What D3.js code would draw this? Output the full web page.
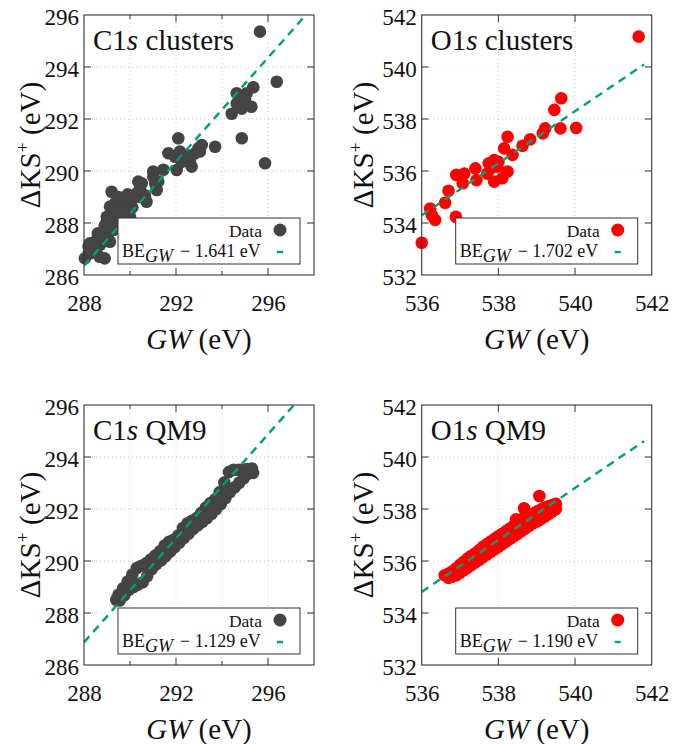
<!DOCTYPE html>
<html><head><meta charset="utf-8">
<script src="https://cdn.jsdelivr.net/npm/d3@7"></script>
<style>body{margin:0;background:#fff}svg{display:block}</style>
</head><body><svg id="c" width="681" height="744" font-family="'Liberation Serif', serif"></svg>
<script>
// ---- data ----
const c1sClustersGW = [288.04,288.26,288.20,288.90,288.68,288.48,288.70,288.91,289.06,288.77,289.13,288.99,289.28,289.13,289.35,289.49,289.64,289.78,290.00,290.14,290.29,290.43,290.36,290.51,290.72,290.29,289.20,289.42,289.57,289.86,290.00,289.71,289.86,289.49,289.28,288.99,288.84,288.55,288.41,288.26,289.13,290.65,291.01,291.01,291.16,291.23,291.45,291.67,291.96,292.17,292.03,292.39,292.68,292.61,292.83,292.97,293.12,293.04,293.70,292.10,294.86,294.42,294.64,294.64,294.86,295.00,295.07,295.28,295.36,295.65,296.38,295.87,289.00,289.30,289.60,288.60,288.90,289.70,290.10,289.90,290.40,291.10,292.50,292.25,288.50,288.20,289.50];
const c1sClustersKS = [286.64,286.83,286.83,286.64,286.70,287.03,287.16,287.35,287.60,287.47,287.86,288.24,288.37,288.63,288.76,288.88,288.69,288.82,288.88,289.01,289.14,289.33,289.59,289.53,288.82,287.73,289.20,288.56,288.18,288.37,288.24,288.50,288.63,287.99,287.73,287.73,287.60,287.35,287.09,287.22,287.28,289.07,289.78,289.98,289.27,289.59,290.05,290.68,290.55,290.75,290.04,290.55,290.17,290.42,290.68,290.87,291.00,290.75,290.93,291.26,291.26,292.20,292.60,292.99,292.40,292.73,292.99,292.47,293.22,295.36,293.43,290.30,288.10,288.00,288.40,287.60,287.90,288.90,288.60,289.10,289.00,289.50,290.60,290.35,286.90,287.10,289.00];

const o1sClustersGW = [541.66,536.00,536.22,536.26,536.35,536.61,536.70,536.89,536.90,537.11,537.07,537.40,537.43,537.71,537.75,537.89,537.97,537.89,538.10,538.24,538.15,538.24,538.37,538.63,538.83,539.16,539.22,539.46,539.64,539.62,540.03,537.80,538.00];
const o1sClustersKS = [541.17,533.24,534.56,534.31,534.12,534.78,535.24,534.24,535.85,535.90,535.53,536.10,535.65,535.90,536.30,536.42,536.17,535.59,535.72,535.98,536.87,537.32,536.62,536.97,537.22,537.45,537.64,538.35,538.80,537.64,537.66,536.10,536.35];

const c1sQM9GW = [289.40,289.50,289.70,289.90,290.10,290.30,290.50,290.70,290.90,291.10,291.30,291.50,291.70,291.90,292.10,292.30,292.50,292.70,292.90,293.10,293.30,293.50,293.70,293.90,294.10,294.30,294.50,294.70,294.90,295.10,295.30,
                  289.55,289.75,289.95,290.15,290.35,290.55,290.75,290.95,291.15,291.35,291.55,291.75,291.95,292.15,292.35,292.55,292.75,292.95,293.15,293.35,293.55,293.75,293.95,294.15,294.35,294.55,294.75,294.95,295.15,295.35];
const c1sQM9KS = [288.51,288.70,288.95,289.21,289.48,289.73,289.82,289.91,290.06,290.21,290.37,290.59,290.74,290.82,290.98,291.27,291.45,291.55,291.65,291.85,292.06,292.23,292.37,292.65,293.02,293.42,293.51,293.51,293.52,293.54,293.56,
                  288.48,288.68,288.89,289.00,289.09,289.18,289.42,289.69,289.88,290.03,290.19,290.36,290.54,290.71,290.89,291.06,291.24,291.37,291.51,291.65,291.82,292.00,292.19,292.42,292.65,292.83,293.01,293.19,293.36,293.39];

const o1sQM9GW = [536.60,536.70,536.80,536.90,537.00,537.10,537.20,537.30,537.40,537.50,537.60,537.70,537.80,537.90,538.00,538.10,538.20,538.30,538.40,538.50,538.60,538.70,538.80,538.90,539.00,539.10,539.20,539.30,539.40,539.50,
                  536.70,536.80,536.90,537.00,537.10,537.20,537.30,537.40,537.50,537.60,537.70,537.80,537.90,538.00,538.10,538.20,538.30,538.40,538.50,538.60,538.70,538.80,538.90,539.00,539.10,539.20,539.30,539.40,539.50,
                  538.67,539.07,538.46];
const o1sQM9KS = [535.45,535.52,535.60,535.72,535.85,535.97,536.10,536.20,536.30,536.42,536.55,536.65,536.75,536.85,536.95,537.05,537.15,537.25,537.35,537.50,537.60,537.68,537.75,537.82,537.90,537.97,538.05,538.10,538.15,538.20,
                  535.35,535.40,535.45,535.55,535.65,535.75,535.85,535.95,536.05,536.15,536.25,536.35,536.45,536.55,536.65,536.75,536.85,536.95,537.05,537.15,537.25,537.35,537.45,537.52,537.60,537.70,537.80,537.90,538.00,
                  538.03,538.50,537.60];

const titleHeads = ["C1", "O1", "C1", "O1"];
const titleTails = [" clusters", " clusters", " QM9", " QM9"];
const fitShifts = [1.641, 1.702, 1.129, 1.190];
const fitLabels = ["1.641", "1.702", "1.129", "1.190"];
const cTickX = [288, 292, 296], cMinorX = [290, 294], cTickY = [286, 288, 290, 292, 294, 296];
const oTickX = [536, 538, 540, 542], oMinorX = [], oTickY = [532, 534, 536, 538, 540, 542];
const cDomX = [288, 298], cDomY = [286, 296], oDomX = [536, 542], oDomY = [532, 542];
const cFitX = [288, 298], oFitX = [536, 541.8];

// ---- layout ----
const FONT = "'Liberation Serif', 'DejaVu Serif', serif";
const svg = d3.select("#c");
const W = 230, H = 260;
const panels = [
  {ox:84, oy:15, gx:cDomX, gy:cDomY, tx:cTickX, mx:cMinorX, ty:cTickY, fx:cFitX, x:c1sClustersGW, y:c1sClustersKS, col:"#444444"},
  {ox:421.7, oy:15, gx:oDomX, gy:oDomY, tx:oTickX, mx:oMinorX, ty:oTickY, fx:oFitX, x:o1sClustersGW, y:o1sClustersKS, col:"#ff0000"},
  {ox:84, oy:405, gx:cDomX, gy:cDomY, tx:cTickX, mx:cMinorX, ty:cTickY, fx:cFitX, x:c1sQM9GW, y:c1sQM9KS, col:"#444444"},
  {ox:421.7, oy:405, gx:oDomX, gy:oDomY, tx:oTickX, mx:oMinorX, ty:oTickY, fx:oFitX, x:o1sQM9GW, y:o1sQM9KS, col:"#ff0000"}
];
const green = "#00a07a";

panels.forEach((p, i) => {
  const g = svg.append("g").attr("transform", `translate(${p.ox},${p.oy})`);
  const xs = d3.scaleLinear().domain(p.gx).range([0, W]);
  const ys = d3.scaleLinear().domain(p.gy).range([H, 0]);
  const allX = p.tx.concat(p.mx).filter(v => v > p.gx[0] && v < p.gx[1]);
  const allY = p.ty.filter(v => v > p.gy[0] && v < p.gy[1]);
  // grid
  g.append("g").selectAll("line").data(allX).join("line")
    .attr("x1", d => xs(d)).attr("x2", d => xs(d)).attr("y1", 0).attr("y2", H)
    .attr("stroke", "#bdbdbd").attr("stroke-width", 0.8).attr("stroke-dasharray", "1,3");
  g.append("g").selectAll("line").data(allY).join("line")
    .attr("y1", d => ys(d)).attr("y2", d => ys(d)).attr("x1", 0).attr("x2", W)
    .attr("stroke", "#bdbdbd").attr("stroke-width", 0.8).attr("stroke-dasharray", "1,3");
  // points
  const pts = p.x.map((v, k) => [v, p.y[k]]);
  g.append("g").selectAll("circle").data(pts).join("circle")
    .attr("cx", d => xs(d[0])).attr("cy", d => ys(d[1])).attr("r", 6.3).attr("fill", p.col);
  // fit line (clipped)
  const cid = "clip" + i;
  g.append("clipPath").attr("id", cid).append("rect").attr("width", W).attr("height", H);
  const line = d3.line().x(d => xs(d)).y(d => ys(d - fitShifts[i]));
  g.append("path").datum(p.fx)
    .attr("d", line).attr("clip-path", `url(#${cid})`)
    .attr("fill", "none").attr("stroke", green).attr("stroke-width", 2.4).attr("stroke-dasharray", "8,6");
  // axes
  const bottom = d3.axisBottom(xs).tickValues(p.tx).tickSize(0).tickPadding(0).tickFormat(d3.format("d"));
  const gb = g.append("g").attr("transform", `translate(0,${H})`).call(bottom).attr("font-family", FONT);
  gb.select(".domain").remove();
  gb.selectAll("text").attr("font-size", 23).attr("y", 36).attr("dy", 0).attr("fill", "#111")
    .attr("font-family", FONT).style("font-family", FONT);
  const left = d3.axisLeft(ys).tickValues(p.ty).tickSize(0).tickPadding(0).tickFormat(d3.format("d"));
  const gl = g.append("g").call(left).attr("font-family", FONT);
  gl.select(".domain").remove();
  gl.selectAll("text").attr("font-size", 23).attr("x", -5).attr("dy", "0.4em").attr("fill", "#111")
    .attr("font-family", FONT).style("font-family", FONT);
  // tick marks (inward, all sides)
  const tm = g.append("g").attr("stroke", "#333").attr("stroke-width", 1);
  p.tx.concat(p.mx).forEach(v => {
    if (v <= p.gx[0] || v >= p.gx[1]) return;
    const L = p.mx.includes(v) ? 4 : 7;
    tm.append("line").attr("x1", xs(v)).attr("x2", xs(v)).attr("y1", H).attr("y2", H - L);
    tm.append("line").attr("x1", xs(v)).attr("x2", xs(v)).attr("y1", 0).attr("y2", L);
  });
  p.ty.forEach(v => {
    if (v <= p.gy[0] || v >= p.gy[1]) return;
    tm.append("line").attr("x1", 0).attr("x2", 7).attr("y1", ys(v)).attr("y2", ys(v));
    tm.append("line").attr("x1", W).attr("x2", W - 7).attr("y1", ys(v)).attr("y2", ys(v));
  });
  // frame
  g.append("rect").attr("width", W).attr("height", H).attr("fill", "none").attr("stroke", "#333").attr("stroke-width", 1.1);
  // title
  const t = g.append("text").attr("x", 9).attr("y", 35).attr("font-size", 29).attr("fill", "#111").style("font-family", FONT);
  t.append("tspan").text(titleHeads[i]);
  t.append("tspan").attr("font-style", "italic").text("s");
  t.append("tspan").text(titleTails[i]);
  // legend
  const lx = 34, ly = 203, lw = W - 48, lh = 46;
  const lg = g.append("g");
  lg.append("rect").attr("x", lx).attr("y", ly).attr("width", lw).attr("height", lh)
    .attr("fill", "#fff").attr("stroke", "#333").attr("stroke-width", 1);
  lg.append("text").attr("x", lx + lw - 38).attr("y", ly + 19).attr("text-anchor", "end").attr("font-size", 17.5)
    .attr("fill", "#111").style("font-family", FONT).text("Data");
  lg.append("circle").attr("cx", lx + lw - 20).attr("cy", ly + 12).attr("r", 6.5).attr("fill", p.col);
  const lt = lg.append("text").attr("x", lx + 4).attr("y", ly + 39).attr("font-size", 18).attr("fill", "#111").style("font-family", FONT);
  lt.append("tspan").text("BE");
  lt.append("tspan").attr("font-style", "italic").attr("dy", 5).text("GW");
  lt.append("tspan").attr("dy", -5).attr("dx", 7).text("\u2212 " + fitLabels[i] + " eV");
  lg.append("line").attr("x1", lx + lw - 23).attr("x2", lx + lw - 17).attr("y1", ly + 34).attr("y2", ly + 34)
    .attr("stroke", green).attr("stroke-width", 2.4);
  // axis labels
  const xl = g.append("text").attr("x", W / 2).attr("y", H + 74).attr("text-anchor", "middle").attr("font-size", 29)
    .attr("fill", "#111").style("font-family", FONT);
  xl.append("tspan").attr("font-style", "italic").text("GW");
  xl.append("tspan").text(" (eV)");
  const yl = g.append("text").attr("transform", `translate(${i % 2 === 0 ? -44 : -49},${H / 2}) rotate(-90)`)
    .attr("text-anchor", "middle").attr("font-size", 29).attr("fill", "#111").style("font-family", FONT);
  yl.append("tspan").text("\u0394KS");
  yl.append("tspan").attr("font-size", 18).attr("dy", -11).text("+");
  yl.append("tspan").attr("dy", 11).text(" (eV)");
});
</script>
</body></html>
